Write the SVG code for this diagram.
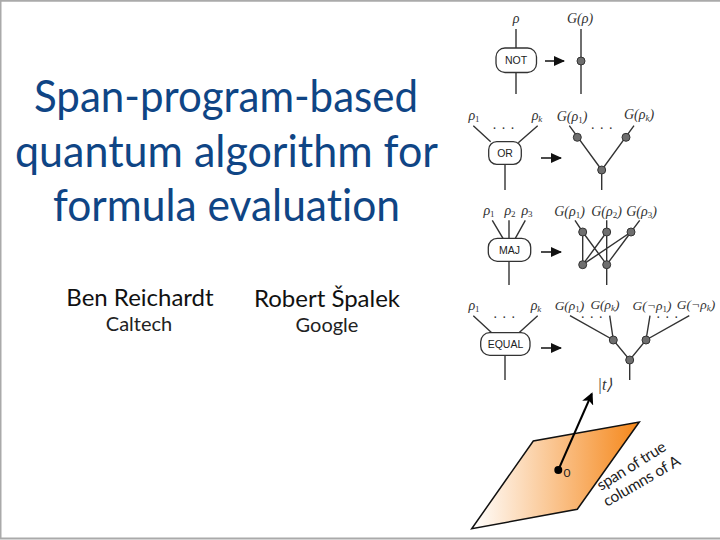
<svg xmlns="http://www.w3.org/2000/svg" width="720" height="540" viewBox="0 0 720 540">
<style>
.t{font-family:"Lato","Open Sans",sans-serif;text-anchor:middle;font-variant-ligatures:none}
.title{font-size:44px;fill:#0f4585}
.name{font-size:24px;fill:#111}
.aff{font-size:20px;fill:#222}
.m{font-family:"Liberation Serif",serif;font-size:14px;font-style:italic;fill:#333;text-anchor:middle}
.m2{font-size:13.5px}
.m tspan.s{font-size:9px;font-style:normal}
.m tspan.k{font-size:9px}
.b{font-family:"Liberation Sans",sans-serif;font-size:10.5px;fill:#222;text-anchor:middle}
.box{fill:#fff;stroke:#333;stroke-width:1.3}
.w{stroke:#333;stroke-width:1.4;fill:none}
.n{fill:#6e6e6e;stroke:#333;stroke-width:1}
.d{font-family:"Liberation Serif",serif;font-size:14px;fill:#333;text-anchor:middle;letter-spacing:5.500px}
.a{stroke:#111;stroke-width:1.5;fill:none;marker-end:url(#ah)}
.p{font-family:"Lato",sans-serif;font-size:15.500px;fill:#222}
</style>
<defs>
<marker id="ah" markerUnits="userSpaceOnUse" markerWidth="11" markerHeight="10" refX="10" refY="5" orient="auto"><path d="M0 0L11 5L0 10Z" fill="#111"/></marker>
<marker id="ah2" markerUnits="userSpaceOnUse" markerWidth="12" markerHeight="12" refX="10" refY="6" orient="auto"><path d="M0 0L12 6L0 12L3 6Z" fill="#000"/></marker>
<linearGradient id="g" x1="0" y1="0.5" x2="1" y2="0.5"><stop offset="0" stop-color="#fff"/><stop offset="1" stop-color="#f5871a"/></linearGradient>
</defs>
<rect x="0" y="0" width="720" height="540" fill="#fff"/>
<path d="M0.500 539V0.800H720M0 538.500H720" fill="none" stroke="#aaa" stroke-width="2"/>
<g id="title">
<text class="t title" x="226" y="112" textLength="384" lengthAdjust="spacingAndGlyphs">Span-program-based</text>
<text class="t title" x="226.500" y="166.500" textLength="423" lengthAdjust="spacingAndGlyphs">quantum algorithm for</text>
<text class="t title" x="226.500" y="220.500" textLength="347" lengthAdjust="spacingAndGlyphs">formula evaluation</text>
</g>
<g id="authors">
<text class="t name" x="140" y="306">Ben Reichardt</text>
<text class="t aff" x="139" y="331">Caltech</text>
<text class="t name" x="327" y="307">Robert Špalek</text>
<text class="t aff" x="327" y="332">Google</text>
</g>
<g id="connectors">
<path class="w" d="M516 29V48M516 73V94M581 29V94"/>
<path class="a" d="M545 61H564"/>
<path class="w" d="M473.300 125.700L490.700 141.700M537.700 125.700L518.300 142.700M505 164V190M569.300 125.700L601.700 170M634 125.700L601.700 170V190"/>
<path class="a" d="M541 158H561"/>
<path class="w" d="M492.300 220.300L503 238.300M509 220.300V238.300M525.300 220.300L515.300 238.300M509 261V285M575 220.300L582.700 232V264.700M582.700 232L606.700 264.700M606.700 220.300V285M606.700 232L582.700 264.700M639.700 220.300L631 232L582.700 264.700M631 232L606.700 264.700"/>
<path class="a" d="M541 252H561"/>
<path class="w" d="M473.300 315.700L491.700 332.700M537.700 315.700L519 332.700M505 355V380M570 315.700L613.300 340L629.700 360L646 340L689.300 315.700M609.700 315.700L613.300 340M650 315.700L646 340M629.700 360V380"/>
<path class="a" d="M541 348H561"/>
</g>
<g id="not"><rect class="box" x="496" y="48" width="40.500" height="24.500" rx="9"/><text class="b" x="516" y="64">NOT</text></g>
<g id="or"><rect class="box" x="488.700" y="141.700" width="32.600" height="22.600" rx="8"/><text class="b" x="505" y="157">OR</text></g>
<g id="maj"><rect class="box" x="488.300" y="238.300" width="42.400" height="23" rx="9"/><text class="b" x="509.500" y="253.500">MAJ</text></g>
<g id="equal"><rect class="box" x="480.700" y="332.700" width="49.300" height="22.600" rx="9"/><text class="b" x="505.500" y="348">EQUAL</text></g>
<g id="gnodes">
<circle class="n" cx="581" cy="61" r="4"/>
<circle class="n" cx="577.300" cy="137.300" r="4"/><circle class="n" cx="626" cy="137.300" r="4"/><circle class="n" cx="601.700" cy="170" r="4"/>
<circle class="n" cx="582.700" cy="232" r="4"/><circle class="n" cx="606.700" cy="232" r="4"/><circle class="n" cx="631" cy="232" r="4"/><circle class="n" cx="582.700" cy="264.700" r="4"/><circle class="n" cx="606.700" cy="264.700" r="4"/>
<circle class="n" cx="613.300" cy="340" r="4"/><circle class="n" cx="646" cy="340" r="4"/><circle class="n" cx="629.700" cy="360" r="4"/>
</g>
<g id="labels">
<text class="m" x="516" y="23">ρ</text><text class="m" x="580" y="23">G(ρ)</text>
<text class="m" x="474" y="120">ρ<tspan class="s" dy="2">1</tspan></text>
<text class="m" x="537" y="120">ρ<tspan class="k" dy="2">k</tspan></text>
<text class="m" x="572" y="121">G(ρ<tspan class="s" dy="2">1</tspan><tspan dy="-2">)</tspan></text>
<text class="m" x="639" y="119">G(ρ<tspan class="k" dy="2">k</tspan><tspan dy="-2">)</tspan></text>
<text class="d" x="506.300" y="128.500">...</text><text class="d" x="604.500" y="128.500">...</text>
<text class="m" x="489" y="215">ρ<tspan class="s" dy="2">1</tspan></text>
<text class="m" x="510" y="215">ρ<tspan class="s" dy="2">2</tspan></text>
<text class="m" x="527" y="215">ρ<tspan class="s" dy="2">3</tspan></text>
<text class="m" x="569.500" y="216">G(ρ<tspan class="s" dy="2">1</tspan><tspan dy="-2">)</tspan></text>
<text class="m" x="606.500" y="216">G(ρ<tspan class="s" dy="2">2</tspan><tspan dy="-2">)</tspan></text>
<text class="m" x="641.500" y="216">G(ρ<tspan class="s" dy="2">3</tspan><tspan dy="-2">)</tspan></text>
<text class="m" x="474" y="310">ρ<tspan class="s" dy="2">1</tspan></text>
<text class="m" x="536" y="310">ρ<tspan class="k" dy="2">k</tspan></text>
<text class="m m2" x="569.500" y="310">G(ρ<tspan class="s" dy="2">1</tspan><tspan dy="-2">)</tspan></text>
<text class="m m2" x="605" y="309">G(ρ<tspan class="k" dy="2">k</tspan><tspan dy="-2">)</tspan></text>
<text class="m m2" x="652" y="310">G(¬ρ<tspan class="s" dy="2">1</tspan><tspan dy="-2">)</tspan></text>
<text class="m m2" x="696" y="309">G(¬ρ<tspan class="k" dy="2">k</tspan><tspan dy="-2">)</tspan></text>
<text class="d" x="507" y="318">...</text><text class="d" x="594.500" y="318">...</text><text class="d" x="670" y="318">...</text>
</g>
<g id="plane">
<path d="M471.700 528.700L533.300 441L639.300 422L577.300 509.300Z" fill="url(#g)" stroke="#111" stroke-width="1.500"/>
<circle cx="558.300" cy="470" r="4" fill="#000"/>
<path d="M558.300 470L591.700 394" stroke="#000" stroke-width="2" fill="none" marker-end="url(#ah2)"/>
<text x="567" y="477" font-family="Lato,sans-serif" font-size="12" fill="#222" text-anchor="middle">0</text>
<text class="m" x="605" y="390" style="font-size:16px">|t⟩</text>
<text class="p" transform="translate(601 491) rotate(-32)" textLength="78">span of true</text>
<text class="p" transform="translate(607 507) rotate(-30)" textLength="86">columns of A</text>
</g>
</svg>
